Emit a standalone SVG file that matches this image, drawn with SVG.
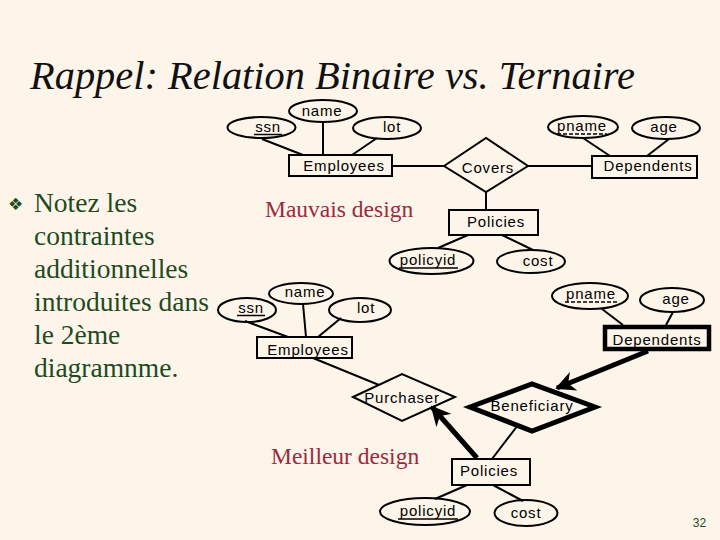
<svg xmlns="http://www.w3.org/2000/svg" width="720" height="540" viewBox="0 0 720 540">
<defs>
<style>
.bg{fill:#FDF5EA}
.t{font-family:"Liberation Sans",Arial,sans-serif;font-size:15px;fill:#000;text-anchor:middle;letter-spacing:0.8px}
.sh{fill:none;stroke:#000;stroke-width:2}
.ln{stroke:#000;stroke-width:2;fill:none}
.thick{stroke:#000;stroke-width:5;fill:none}
.ul{stroke:#000;stroke-width:1.5}
.dul{stroke:#000;stroke-width:1.5;stroke-dasharray:4 2}
.red{font-family:"Liberation Serif","Times New Roman",serif;font-size:23.5px;fill:#9C2A3E}
.grn{font-family:"Liberation Serif","Times New Roman",serif;font-size:27.5px;fill:#1F4A1F}
</style>
<marker id="ah" viewBox="0 0 10 10" refX="9" refY="5" markerWidth="4" markerHeight="4" orient="auto" markerUnits="strokeWidth">
<path d="M0,0 L10,5 L0,10 L3,5 Z" fill="#000"/>
</marker>
</defs>
<rect class="bg" x="0" y="0" width="720" height="540"/>

<text x="30" y="89" font-family="'Liberation Serif','Times New Roman',serif" font-style="italic" font-size="39" fill="#111" textLength="605" lengthAdjust="spacingAndGlyphs">Rappel: Relation Binaire vs. Ternaire</text>

<g id="bullet-text">
<text x="8" y="210" font-family="'DejaVu Sans',sans-serif" font-size="17" fill="#1F4A1F">❖</text>
<text class="grn" x="34" y="212">Notez les</text>
<text class="grn" x="34" y="245">contraintes</text>
<text class="grn" x="34" y="278">additionnelles</text>
<text class="grn" x="34" y="311">introduites dans</text>
<text class="grn" x="34" y="344">le 2ème</text>
<text class="grn" x="34" y="377">diagramnme.</text>
</g>

<text class="red" x="265" y="217">Mauvais design</text>
<text class="red" x="271" y="464">Meilleur design</text>

<g id="connectors">
<!-- top -->
<line class="ln" x1="262" y1="139" x2="303" y2="155"/>
<line class="ln" x1="323" y1="122" x2="323" y2="155"/>
<line class="ln" x1="377" y1="138" x2="352" y2="155"/>
<line class="ln" x1="392" y1="166" x2="444" y2="166"/>
<line class="ln" x1="528" y1="166" x2="592" y2="166"/>
<line class="ln" x1="583" y1="138" x2="610" y2="156"/>
<line class="ln" x1="669" y1="139" x2="647" y2="156"/>
<line class="ln" x1="486" y1="192" x2="486" y2="210"/>
<line class="ln" x1="468" y1="235" x2="438" y2="248"/>
<line class="ln" x1="502" y1="235" x2="533" y2="250"/>
<!-- bottom -->
<line class="ln" x1="245" y1="321" x2="288" y2="337"/>
<line class="ln" x1="303" y1="304" x2="306" y2="337"/>
<line class="ln" x1="341" y1="318" x2="318" y2="337"/>
<line class="ln" x1="313" y1="358" x2="379" y2="385"/>
<line class="ln" x1="602" y1="309" x2="623" y2="325"/>
<line class="ln" x1="673" y1="312" x2="666" y2="325"/>
<line class="ln" x1="492" y1="459" x2="518" y2="425"/>
<line class="ln" x1="467" y1="485" x2="435" y2="499"/>
<line class="ln" x1="493" y1="485" x2="523" y2="501"/>
<line class="thick" x1="648" y1="351" x2="557" y2="388" marker-end="url(#ah)"/>
<line class="thick" x1="477" y1="458" x2="432" y2="407" marker-end="url(#ah)"/>
</g>

<!-- top diagram -->
<g id="t-ssn"><ellipse class="sh" cx="261.5" cy="127.5" rx="34" ry="10.5"/><text class="t" x="268" y="132">ssn</text><line class="ul" x1="254" y1="134.5" x2="282" y2="134.5"/></g>
<g id="t-name"><ellipse class="sh" cx="323" cy="111" rx="34" ry="11"/><text class="t" x="322" y="116">name</text></g>
<g id="t-lot"><ellipse class="sh" cx="387" cy="128" rx="34" ry="11"/><text class="t" x="392" y="132">lot</text></g>
<g id="t-employees"><rect class="sh" x="289" y="155" width="103" height="21"/><text class="t" x="344" y="171">Employees</text></g>
<g id="t-covers"><polygon class="sh" points="444,166 486,138 528,166 486,192"/><text class="t" x="488" y="173">Covers</text></g>
<g id="t-dependents"><rect class="sh" x="592" y="156" width="105" height="22"/><text class="t" x="648" y="171">Dependents</text></g>
<g id="t-pname"><ellipse class="sh" cx="583" cy="127" rx="35" ry="11"/><text class="t" x="582" y="131">pname</text><line class="dul" x1="557" y1="134" x2="607" y2="134"/></g>
<g id="t-age"><ellipse class="sh" cx="666" cy="128" rx="34" ry="11"/><text class="t" x="664" y="132">age</text></g>
<g id="t-policies"><rect class="sh" x="449" y="210" width="89" height="25"/><text class="t" x="496" y="227">Policies</text></g>
<g id="t-policyid"><ellipse class="sh" cx="431.5" cy="261" rx="42" ry="13"/><text class="t" x="428" y="265">policyid</text><line class="ul" x1="399" y1="268" x2="458" y2="268"/></g>
<g id="t-cost"><ellipse class="sh" cx="531" cy="261.5" rx="34" ry="11.5"/><text class="t" x="538" y="266">cost</text></g>

<!-- bottom diagram -->
<g id="b-ssn"><ellipse class="sh" cx="247" cy="310" rx="29" ry="12"/><text class="t" x="251" y="313">ssn</text><line class="ul" x1="237" y1="315.5" x2="265" y2="315.5"/></g>
<g id="b-name"><ellipse class="sh" cx="301" cy="293.5" rx="32" ry="10.5"/><text class="t" x="305" y="297">name</text></g>
<g id="b-lot"><ellipse class="sh" cx="360" cy="310" rx="31" ry="12"/><text class="t" x="366" y="313">lot</text></g>
<g id="b-employees"><rect class="sh" x="257" y="337" width="95" height="21"/><text class="t" x="308" y="355">Employees</text></g>
<g id="b-purchaser"><polygon class="sh" points="353,397 402,374 455,397 402,421"/><text class="t" x="402" y="403">Purchaser</text></g>
<g id="b-pname"><ellipse class="sh" cx="590" cy="296" rx="38" ry="13"/><text class="t" x="591" y="299">pname</text><line class="dul" x1="565" y1="302" x2="617" y2="302"/></g>
<g id="b-age"><ellipse class="sh" cx="672" cy="300" rx="32" ry="12"/><text class="t" x="676" y="304">age</text></g>
<g id="b-dependents"><rect x="605" y="327" width="104" height="22" fill="none" stroke="#000" stroke-width="4.5"/><text class="t" x="657" y="345">Dependents</text></g>
<g id="b-beneficiary"><polygon points="470,407 532,384 595,407 532,431" fill="none" stroke="#000" stroke-width="5" stroke-linejoin="miter"/><text class="t" x="532" y="411">Beneficiary</text></g>
<g id="b-policies"><rect class="sh" x="452" y="459" width="78" height="26"/><text class="t" x="489" y="476">Policies</text></g>
<g id="b-policyid"><ellipse class="sh" cx="425" cy="511.5" rx="45" ry="13.5"/><text class="t" x="428" y="516">policyid</text><line class="ul" x1="398" y1="519" x2="458" y2="519"/></g>
<g id="b-cost"><ellipse class="sh" cx="526" cy="513" rx="31.5" ry="13"/><text class="t" x="526" y="518">cost</text></g>

<text x="699.5" y="527" font-family="'Liberation Sans',Arial,sans-serif" font-size="12" fill="#1F4A1F" text-anchor="middle">32</text>
</svg>
